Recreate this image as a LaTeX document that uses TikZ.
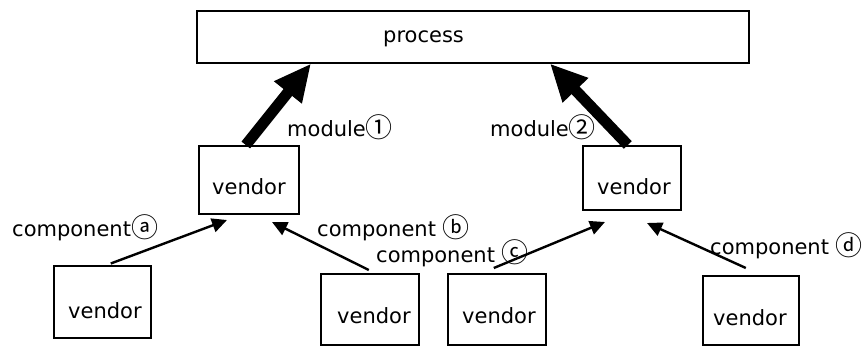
\documentclass[tikz,border=0pt]{standalone}
\usepackage{fontspec}
\setmainfont{DejaVu Sans}
\newfontfamily\circfont{Noto Sans CJK KR}
\usetikzlibrary{arrows.meta}
\newcommand{\enc}[1]{\raisebox{-1pt}{\circfont\fontsize{27}{30}\selectfont #1}}

\begin{document}
\begin{tikzpicture}[x=1pt,y=-1pt,
  font=\fontsize{21}{25}\selectfont,
  box/.style={draw, line width=1.6pt, inner sep=0pt, anchor=north west},
  txt/.style={inner sep=0pt, anchor=base west},
  heavy/.style={line width=11pt, -{Triangle[length=37pt,width=33pt]}},
  thin/.style={line width=2.4pt, -{Triangle[length=15pt,width=14pt]}}]
\useasboundingbox (0,0) rectangle (867,347);

% boxes
\node[box, minimum width=552pt, minimum height=52pt] (proc) at (196,10) {};
\node[box, minimum width=100pt, minimum height=68pt] (mL) at (198,145) {};
\node[box, minimum width=98pt, minimum height=64pt] (mR) at (582,145) {};
\node[box, minimum width=97pt, minimum height=72pt] (b1) at (53,265) {};
\node[box, minimum width=98pt, minimum height=71pt] (b2) at (320,273) {};
\node[box, minimum width=98pt, minimum height=71pt] (b3) at (447,273) {};
\node[box, minimum width=96pt, minimum height=69pt] (b4) at (702,275) {};

% box texts
\node[txt] (tproc) at (383,43) {process};
\node[txt] (tmL) at (212,195) {vendor};
\node[txt] (tmR) at (597,195) {vendor};
\node[txt] (tb1) at (68,318) {vendor};
\node[txt] (tb2) at (337,323) {vendor};
\node[txt] (tb3) at (462,323) {vendor};
\node[txt] (tb4) at (713,325) {vendor};

% connector labels
\node[txt] (lm1) at (287,137) {module\enc{①}};
\node[txt] (lm2) at (490,137) {module\enc{②}};
\node[txt] (lca) at (12,237) {component\enc{ⓐ}};
\node[txt] (lcb) at (317,237) {component \enc{ⓑ}};
\node[txt] (lcc) at (376,262) {component \enc{ⓒ}};
\node[txt] (lcd) at (710,255) {component \enc{ⓓ}};

% tips of the thin arrows
\coordinate (ta) at (227,220);
\coordinate (tb) at (272,222);
\coordinate (tc) at (605,222);
\coordinate (td) at (647,223);

% heavy arrows to the process
\draw[heavy] ([xshift=-3pt]mL.north) -- ([xshift=115pt]proc.south west);
\draw[heavy] ([xshift=-4pt]mR.north) -- ([xshift=354pt]proc.south west);

% thin arrows to the vendors
\draw[thin] ([xshift=8.5pt,yshift=1.5pt]b1.north) -- (ta);
\draw[thin] ([xshift=-1pt,yshift=3pt]b2.north) -- (tb);
\draw[thin] ([xshift=-3pt,yshift=5pt]b3.north) -- (tc);
\draw[thin] ([xshift=-5pt,yshift=7pt]b4.north) -- (td);
\end{tikzpicture}
\end{document}
